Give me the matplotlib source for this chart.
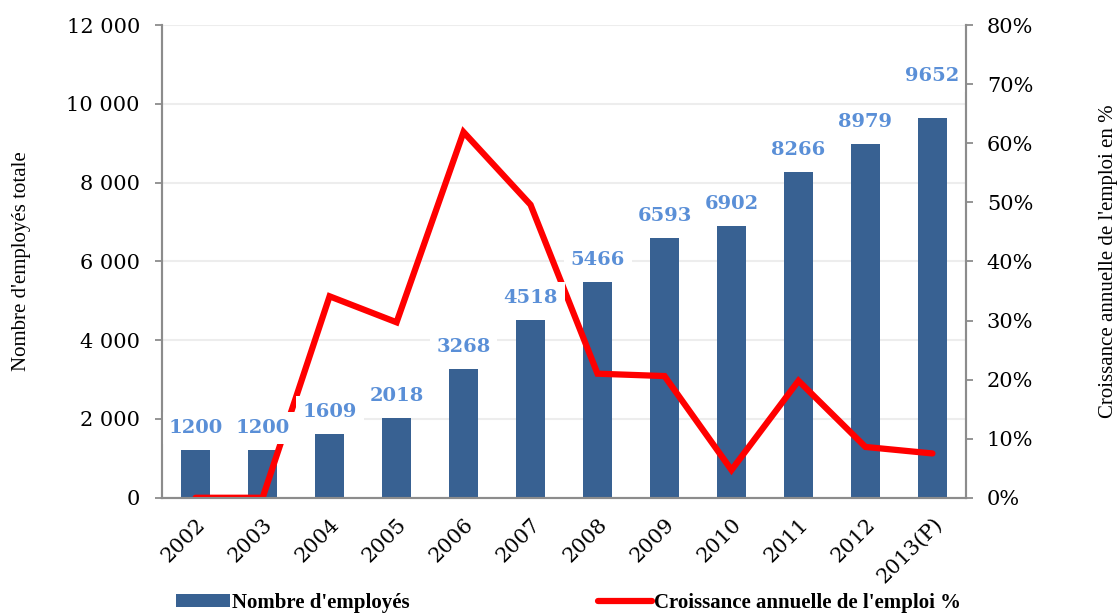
import numpy as np
import matplotlib.pyplot as plt
from matplotlib.ticker import FuncFormatter

annees = ['2002', '2003', '2004', '2005', '2006', '2007', '2008',
          '2009', '2010', '2011', '2012', '2013(P)']
employes = [1200, 1200, 1609, 2018, 3268, 4518, 5466, 6593, 6902, 8266, 8979, 9652]
croissance = [0, 0, 34.1, 29.7, 61.9, 49.6, 21.0, 20.6, 4.7, 19.8, 8.6, 7.5]

bleu = '#386192'
bleu_clair = '#5A8FD7'
gris = '#8C8C8C'
num_font = 'DejaVu Serif'
txt_font = 'Liberation Serif'

fig = plt.figure(figsize=(11.18, 6.13), dpi=100)
ax = fig.add_axes([0.145, 0.188, 0.719, 0.771])
ax2 = ax.twinx()

x = np.arange(len(annees))
barres = ax.bar(x, employes, width=0.43, color=bleu, zorder=2,
                label="Nombre d'employés")
ligne, = ax2.plot(x, croissance, color='#FF0000', lw=4.5, zorder=2.1,
                  solid_capstyle='round', solid_joinstyle='miter',
                  label="Croissance annuelle de l'emploi %")

# axe gauche
ax.set_xlim(-0.5, len(annees) - 0.5)
ax.set_ylim(0, 12000)
ax.set_yticks(range(0, 12001, 2000))
ax.yaxis.set_major_formatter(FuncFormatter(lambda v, p: f'{int(v):,}'.replace(',', ' ')))
ax.yaxis.grid(True, color='#EDEDED', lw=1.5, zorder=0)
ax.set_axisbelow(True)
ax.set_xticks(x)
ax.set_xticklabels(annees, rotation=45, ha='right', va='top',
                   rotation_mode='anchor', family=num_font, fontsize=15)
ax.tick_params(axis='x', length=0, pad=12)
ax.tick_params(axis='y', length=5, color=gris, width=1.3, pad=11)
for lab in ax.get_yticklabels():
    lab.set_family(num_font)
    lab.set_fontsize(15)
ax.set_ylabel("Nombre d'employés totale", family=txt_font, fontsize=15)
ax.yaxis.set_label_coords(-0.163, 0.5)

# axe droit
ax2.set_ylim(0, 80)
ax2.set_yticks(range(0, 81, 10))
ax2.yaxis.set_major_formatter(FuncFormatter(lambda v, p: f'{int(v)}%'))
ax2.tick_params(axis='y', length=5, color=gris, width=1.3, pad=10)
for lab in ax2.get_yticklabels():
    lab.set_family(num_font)
    lab.set_fontsize(15)
ax2.set_ylabel("Croissance annuelle de l'emploi en %", family=txt_font, fontsize=15)
ax2.yaxis.set_label_coords(1.165, 0.5)

for a in (ax, ax2):
    a.spines['top'].set_visible(False)
    for s in ('left', 'right', 'bottom'):
        a.spines[s].set_color(gris)
        a.spines[s].set_linewidth(1.5)

# etiquettes de valeurs au-dessus des barres, sur fond blanc
# (au-dessus de la courbe, sous les axes)
for i, (xi, v) in enumerate(zip(x, employes)):
    dy = 30 if i == len(employes) - 1 else 16  # derniere etiquette remontee
    ax2.annotate(str(v), xy=(xi, v * 80 / 12000), xytext=(0, dy),
                 textcoords='offset points', ha='center', va='center',
                 family=num_font, fontsize=14, fontweight='bold', color=bleu_clair,
                 bbox=dict(boxstyle='square,pad=0.35', fc='white', ec='none'),
                 zorder=2.3)

fig.legend(handles=[barres, ligne], loc='center', bbox_to_anchor=(0.5085, 0.016),
           ncol=2, frameon=False, handlelength=2.6, handleheight=0.6,
           columnspacing=9, handletextpad=0.1,
           prop={'family': txt_font, 'size': 15, 'weight': 'bold'})

fig.savefig('out.png', dpi=100)
